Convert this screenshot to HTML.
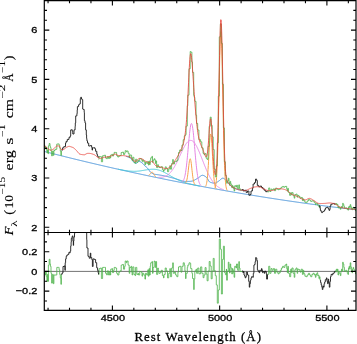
<!DOCTYPE html>
<html><head><meta charset="utf-8"><style>
html,body{margin:0;padding:0;background:#fff;}
body{width:357px;height:344px;position:relative;overflow:hidden;}
svg{position:absolute;left:0;top:0;will-change:transform;}
.tk{font-family:"Liberation Sans",sans-serif;font-size:9.6px;fill:#000;stroke:#000;stroke-width:0.32px;}
.xl{font-family:"Liberation Serif",serif;font-size:12.8px;fill:#000;stroke:#000;stroke-width:0.3px;}
.ym{font-family:"Liberation Serif",serif;font-size:12px;fill:#000;stroke:#000;stroke-width:0.15px;}
.it{font-style:italic;}
.yp{font-family:"Liberation Serif",serif;font-size:8px;fill:#000;stroke:#000;stroke-width:0.1px;}
.ys{font-family:"Liberation Serif",serif;font-size:8.5px;fill:#000;}
</style></head><body>
<svg width="357" height="344" viewBox="0 0 357 344">
<defs><clipPath id="cu"><rect x="44.3" y="0.6" width="311.7" height="231.9"/></clipPath>
<clipPath id="cl"><rect x="44.3" y="232.5" width="311.7" height="77.89999999999998"/></clipPath></defs>
<path d="M44.3 271.40H356.0" stroke="#444" stroke-width="0.75" fill="none"/>
<path d="M44.30 151.44L44.55 151.50L44.80 151.57L45.05 151.63L45.30 151.70L45.55 151.76L45.80 151.83L46.05 151.89L46.30 151.95L46.55 152.02L46.80 152.08L47.05 152.15L47.30 152.21L47.55 152.28L47.80 152.34L48.05 152.40L48.30 152.47L48.55 152.53L48.80 152.60L49.05 152.66L49.30 152.72L49.55 152.79L49.80 152.85L50.05 152.91L50.30 152.98L50.55 153.04L50.80 153.11L51.05 153.17L51.30 153.23L51.55 153.30L51.80 153.36L52.05 153.42L52.30 153.49L52.55 153.55L52.80 153.62L53.05 153.68L53.30 153.74L53.55 153.81L53.80 153.87L54.05 153.93L54.30 154.00L54.55 154.06L54.80 154.12L55.05 154.19L55.30 154.25L55.55 154.31L55.80 154.38L56.05 154.44L56.30 154.50L56.55 154.57L56.80 154.63L57.05 154.69L57.30 154.75L57.55 154.82L57.80 154.88L58.05 154.94L58.30 155.01L58.55 155.07L58.80 155.13L59.05 155.19L59.30 155.26L59.55 155.32L59.80 155.38L60.05 155.45L60.30 155.51L60.55 155.57L60.80 155.63L61.05 155.70L61.30 155.76L61.55 155.82L61.80 155.88L62.05 155.95L62.30 156.01L62.55 156.07L62.80 156.13L63.05 156.20L63.30 156.26L63.55 156.32L63.80 156.38L64.05 156.45L64.30 156.51L64.55 156.57L64.80 156.63L65.05 156.69L65.30 156.76L65.55 156.82L65.80 156.88L66.05 156.94L66.30 157.00L66.55 157.07L66.80 157.13L67.05 157.19L67.30 157.25L67.55 157.31L67.80 157.38L68.05 157.44L68.30 157.50L68.55 157.56L68.80 157.62L69.05 157.68L69.30 157.75L69.55 157.81L69.80 157.87L70.05 157.93L70.30 157.99L70.55 158.05L70.80 158.12L71.05 158.18L71.30 158.24L71.55 158.30L71.80 158.36L72.05 158.42L72.30 158.48L72.55 158.55L72.80 158.61L73.05 158.67L73.30 158.73L73.55 158.79L73.80 158.85L74.05 158.91L74.30 158.97L74.55 159.04L74.80 159.10L75.05 159.16L75.30 159.22L75.55 159.28L75.80 159.34L76.05 159.40L76.30 159.46L76.55 159.52L76.80 159.58L77.05 159.64L77.30 159.71L77.55 159.77L77.80 159.83L78.05 159.89L78.30 159.95L78.55 160.01L78.80 160.07L79.05 160.13L79.30 160.19L79.55 160.25L79.80 160.31L80.05 160.37L80.30 160.43L80.55 160.49L80.80 160.55L81.05 160.61L81.30 160.67L81.55 160.73L81.80 160.79L82.05 160.85L82.30 160.91L82.55 160.97L82.80 161.03L83.05 161.09L83.30 161.15L83.55 161.21L83.80 161.27L84.05 161.33L84.30 161.39L84.55 161.45L84.80 161.51L85.05 161.57L85.30 161.63L85.55 161.69L85.80 161.75L86.05 161.81L86.30 161.87L86.55 161.93L86.80 161.99L87.05 162.05L87.30 162.11L87.55 162.17L87.80 162.23L88.05 162.29L88.30 162.35L88.55 162.41L88.80 162.47L89.05 162.53L89.30 162.59L89.55 162.65L89.80 162.71L90.05 162.77L90.30 162.83L90.55 162.88L90.80 162.94L91.05 163.00L91.30 163.06L91.55 163.12L91.80 163.18L92.05 163.24L92.30 163.30L92.55 163.36L92.80 163.42L93.05 163.48L93.30 163.53L93.55 163.59L93.80 163.65L94.05 163.71L94.30 163.77L94.55 163.83L94.80 163.89L95.05 163.95L95.30 164.01L95.55 164.06L95.80 164.12L96.05 164.18L96.30 164.24L96.55 164.30L96.80 164.36L97.05 164.42L97.30 164.47L97.55 164.53L97.80 164.59L98.05 164.65L98.30 164.71L98.55 164.77L98.80 164.82L99.05 164.88L99.30 164.94L99.55 165.00L99.80 165.06L100.05 165.12L100.30 165.17L100.55 165.23L100.80 165.29L101.05 165.35L101.30 165.41L101.55 165.46L101.80 165.52L102.05 165.58L102.30 165.64L102.55 165.70L102.80 165.75L103.05 165.81L103.30 165.87L103.55 165.93L103.80 165.98L104.05 166.04L104.30 166.10L104.55 166.16L104.80 166.22L105.05 166.27L105.30 166.33L105.55 166.39L105.80 166.45L106.05 166.50L106.30 166.56L106.55 166.62L106.80 166.68L107.05 166.73L107.30 166.79L107.55 166.85L107.80 166.90L108.05 166.96L108.30 167.02L108.55 167.08L108.80 167.13L109.05 167.19L109.30 167.25L109.55 167.31L109.80 167.36L110.05 167.42L110.30 167.48L110.55 167.53L110.80 167.59L111.05 167.65L111.30 167.70L111.55 167.76L111.80 167.82L112.05 167.87L112.30 167.93L112.55 167.99L112.80 168.04L113.05 168.10L113.30 168.16L113.55 168.21L113.80 168.27L114.05 168.33L114.30 168.38L114.55 168.44L114.80 168.50L115.05 168.55L115.30 168.61L115.55 168.67L115.80 168.72L116.05 168.78L116.30 168.84L116.55 168.89L116.80 168.95L117.05 169.01L117.30 169.06L117.55 169.12L117.80 169.17L118.05 169.23L118.30 169.29L118.55 169.34L118.80 169.40L119.05 169.45L119.30 169.51L119.55 169.57L119.80 169.62L120.05 169.68L120.30 169.73L120.55 169.79L120.80 169.85L121.05 169.90L121.30 169.96L121.55 170.01L121.80 170.07L122.05 170.12L122.30 170.18L122.55 170.24L122.80 170.29L123.05 170.35L123.30 170.40L123.55 170.46L123.80 170.51L124.05 170.57L124.30 170.62L124.55 170.68L124.80 170.73L125.05 170.79L125.30 170.85L125.55 170.90L125.80 170.96L126.05 171.01L126.30 171.07L126.55 171.12L126.80 171.18L127.05 171.23L127.30 171.29L127.55 171.34L127.80 171.40L128.05 171.45L128.30 171.51L128.55 171.56L128.80 171.62L129.05 171.67L129.30 171.73L129.55 171.78L129.80 171.84L130.05 171.89L130.30 171.95L130.55 172.00L130.80 172.05L131.05 172.11L131.30 172.16L131.55 172.22L131.80 172.27L132.05 172.33L132.30 172.38L132.55 172.44L132.80 172.49L133.05 172.55L133.30 172.60L133.55 172.65L133.80 172.71L134.05 172.76L134.30 172.82L134.55 172.87L134.80 172.93L135.05 172.98L135.30 173.03L135.55 173.09L135.80 173.14L136.05 173.20L136.30 173.25L136.55 173.30L136.80 173.36L137.05 173.41L137.30 173.47L137.55 173.52L137.80 173.57L138.05 173.63L138.30 173.68L138.55 173.74L138.80 173.79L139.05 173.84L139.30 173.90L139.55 173.95L139.80 174.00L140.05 174.06L140.30 174.11L140.55 174.17L140.80 174.22L141.05 174.27L141.30 174.33L141.55 174.38L141.80 174.43L142.05 174.49L142.30 174.54L142.55 174.59L142.80 174.65L143.05 174.70L143.30 174.75L143.55 174.81L143.80 174.86L144.05 174.91L144.30 174.97L144.55 175.02L144.80 175.07L145.05 175.13L145.30 175.18L145.55 175.23L145.80 175.28L146.05 175.34L146.30 175.39L146.55 175.44L146.80 175.50L147.05 175.55L147.30 175.60L147.55 175.65L147.80 175.71L148.05 175.76L148.30 175.81L148.55 175.86L148.80 175.92L149.05 175.97L149.30 176.02L149.55 176.08L149.80 176.13L150.05 176.18L150.30 176.23L150.55 176.29L150.80 176.34L151.05 176.39L151.30 176.44L151.55 176.49L151.80 176.55L152.05 176.60L152.30 176.65L152.55 176.70L152.80 176.76L153.05 176.81L153.30 176.86L153.55 176.91L153.80 176.96L154.05 177.02L154.30 177.07L154.55 177.12L154.80 177.17L155.05 177.22L155.30 177.28L155.55 177.33L155.80 177.38L156.05 177.43L156.30 177.48L156.55 177.54L156.80 177.59L157.05 177.64L157.30 177.69L157.55 177.74L157.80 177.79L158.05 177.85L158.30 177.90L158.55 177.95L158.80 178.00L159.05 178.05L159.30 178.10L159.55 178.15L159.80 178.21L160.05 178.26L160.30 178.31L160.55 178.36L160.80 178.41L161.05 178.46L161.30 178.51L161.55 178.56L161.80 178.62L162.05 178.67L162.30 178.72L162.55 178.77L162.80 178.82L163.05 178.87L163.30 178.92L163.55 178.97L163.80 179.02L164.05 179.08L164.30 179.13L164.55 179.18L164.80 179.23L165.05 179.28L165.30 179.33L165.55 179.38L165.80 179.43L166.05 179.48L166.30 179.53L166.55 179.58L166.80 179.63L167.05 179.68L167.30 179.73L167.55 179.78L167.80 179.84L168.05 179.89L168.30 179.94L168.55 179.99L168.80 180.04L169.05 180.09L169.30 180.14L169.55 180.19L169.80 180.24L170.05 180.29L170.30 180.34L170.55 180.39L170.80 180.44L171.05 180.49L171.30 180.54L171.55 180.59L171.80 180.64L172.05 180.69L172.30 180.74L172.55 180.79L172.80 180.84L173.05 180.89L173.30 180.94L173.55 180.99L173.80 181.04L174.05 181.09L174.30 181.14L174.55 181.19L174.80 181.24L175.05 181.29L175.30 181.34L175.55 181.39L175.80 181.44L176.05 181.49L176.30 181.53L176.55 181.58L176.80 181.63L177.05 181.68L177.30 181.73L177.55 181.78L177.80 181.83L178.05 181.88L178.30 181.93L178.55 181.98L178.80 182.03L179.05 182.08L179.30 182.13L179.55 182.18L179.80 182.23L180.05 182.27L180.30 182.32L180.55 182.37L180.80 182.42L181.05 182.47L181.30 182.52L181.55 182.57L181.80 182.62L182.05 182.67L182.30 182.71L182.55 182.76L182.80 182.81L183.05 182.86L183.30 182.91L183.55 182.96L183.80 183.01L184.05 183.06L184.30 183.10L184.55 183.15L184.80 183.20L185.05 183.25L185.30 183.30L185.55 183.35L185.80 183.40L186.05 183.44L186.30 183.49L186.55 183.54L186.80 183.59L187.05 183.64L187.30 183.69L187.55 183.73L187.80 183.78L188.05 183.83L188.30 183.88L188.55 183.93L188.80 183.97L189.05 184.02L189.30 184.07L189.55 184.12L189.80 184.17L190.05 184.21L190.30 184.26L190.55 184.31L190.80 184.36L191.05 184.41L191.30 184.45L191.55 184.50L191.80 184.55L192.05 184.60L192.30 184.64L192.55 184.69L192.80 184.74L193.05 184.79L193.30 184.84L193.55 184.88L193.80 184.93L194.05 184.98L194.30 185.03L194.55 185.07L194.80 185.12L195.05 185.17L195.30 185.22L195.55 185.26L195.80 185.31L196.05 185.36L196.30 185.40L196.55 185.45L196.80 185.50L197.05 185.55L197.30 185.59L197.55 185.64L197.80 185.69L198.05 185.73L198.30 185.78L198.55 185.83L198.80 185.88L199.05 185.92L199.30 185.97L199.55 186.02L199.80 186.06L200.05 186.11L200.30 186.16L200.55 186.20L200.80 186.25L201.05 186.30L201.30 186.34L201.55 186.39L201.80 186.44L202.05 186.48L202.30 186.53L202.55 186.58L202.80 186.62L203.05 186.67L203.30 186.72L203.55 186.76L203.80 186.81L204.05 186.85L204.30 186.90L204.55 186.95L204.80 186.99L205.05 187.04L205.30 187.09L205.55 187.13L205.80 187.18L206.05 187.22L206.30 187.27L206.55 187.32L206.80 187.36L207.05 187.41L207.30 187.45L207.55 187.50L207.80 187.55L208.05 187.59L208.30 187.64L208.55 187.68L208.80 187.73L209.05 187.78L209.30 187.82L209.55 187.87L209.80 187.91L210.05 187.96L210.30 188.00L210.55 188.05L210.80 188.10L211.05 188.14L211.30 188.19L211.55 188.23L211.80 188.28L212.05 188.32L212.30 188.37L212.55 188.41L212.80 188.46L213.05 188.50L213.30 188.55L213.55 188.60L213.80 188.64L214.05 188.69L214.30 188.73L214.55 188.78L214.80 188.82L215.05 188.87L215.30 188.91L215.55 188.96L215.80 189.00L216.05 189.05L216.30 189.09L216.55 189.14L216.80 189.18L217.05 189.23L217.30 189.27L217.55 189.32L217.80 189.36L218.05 189.41L218.30 189.45L218.55 189.50L218.80 189.54L219.05 189.58L219.30 189.63L219.55 189.67L219.80 189.72L220.05 189.76L220.30 189.81L220.55 189.85L220.80 189.90L221.05 189.94L221.30 189.99L221.55 190.03L221.80 190.07L222.05 190.12L222.30 190.16L222.55 190.21L222.80 190.25L223.05 190.30L223.30 190.34L223.55 190.38L223.80 190.43L224.05 190.47L224.30 190.52L224.55 190.56L224.80 190.60L225.05 190.65L225.30 190.69L225.55 190.74L225.80 190.78L226.05 190.82L226.30 190.87L226.55 190.91L226.80 190.96L227.05 191.00L227.30 191.04L227.55 191.09L227.80 191.13L228.05 191.17L228.30 191.22L228.55 191.26L228.80 191.30L229.05 191.35L229.30 191.39L229.55 191.43L229.80 191.48L230.05 191.52L230.30 191.57L230.55 191.61L230.80 191.65L231.05 191.70L231.30 191.74L231.55 191.78L231.80 191.82L232.05 191.87L232.30 191.91L232.55 191.95L232.80 192.00L233.05 192.04L233.30 192.08L233.55 192.13L233.80 192.17L234.05 192.21L234.30 192.26L234.55 192.30L234.80 192.34L235.05 192.38L235.30 192.43L235.55 192.47L235.80 192.51L236.05 192.56L236.30 192.60L236.55 192.64L236.80 192.68L237.05 192.73L237.30 192.77L237.55 192.81L237.80 192.85L238.05 192.90L238.30 192.94L238.55 192.98L238.80 193.02L239.05 193.07L239.30 193.11L239.55 193.15L239.80 193.19L240.05 193.23L240.30 193.28L240.55 193.32L240.80 193.36L241.05 193.40L241.30 193.45L241.55 193.49L241.80 193.53L242.05 193.57L242.30 193.61L242.55 193.66L242.80 193.70L243.05 193.74L243.30 193.78L243.55 193.82L243.80 193.87L244.05 193.91L244.30 193.95L244.55 193.99L244.80 194.03L245.05 194.07L245.30 194.12L245.55 194.16L245.80 194.20L246.05 194.24L246.30 194.28L246.55 194.32L246.80 194.37L247.05 194.41L247.30 194.45L247.55 194.49L247.80 194.53L248.05 194.57L248.30 194.61L248.55 194.66L248.80 194.70L249.05 194.74L249.30 194.78L249.55 194.82L249.80 194.86L250.05 194.90L250.30 194.94L250.55 194.98L250.80 195.03L251.05 195.07L251.30 195.11L251.55 195.15L251.80 195.19L252.05 195.23L252.30 195.27L252.55 195.31L252.80 195.35L253.05 195.39L253.30 195.43L253.55 195.48L253.80 195.52L254.05 195.56L254.30 195.60L254.55 195.64L254.80 195.68L255.05 195.72L255.30 195.76L255.55 195.80L255.80 195.84L256.05 195.88L256.30 195.92L256.55 195.96L256.80 196.00L257.05 196.04L257.30 196.08L257.55 196.12L257.80 196.16L258.05 196.20L258.30 196.24L258.55 196.28L258.80 196.32L259.05 196.36L259.30 196.41L259.55 196.45L259.80 196.49L260.05 196.53L260.30 196.57L260.55 196.61L260.80 196.64L261.05 196.68L261.30 196.72L261.55 196.76L261.80 196.80L262.05 196.84L262.30 196.88L262.55 196.92L262.80 196.96L263.05 197.00L263.30 197.04L263.55 197.08L263.80 197.12L264.05 197.16L264.30 197.20L264.55 197.24L264.80 197.28L265.05 197.32L265.30 197.36L265.55 197.40L265.80 197.44L266.05 197.48L266.30 197.52L266.55 197.56L266.80 197.59L267.05 197.63L267.30 197.67L267.55 197.71L267.80 197.75L268.05 197.79L268.30 197.83L268.55 197.87L268.80 197.91L269.05 197.95L269.30 197.99L269.55 198.02L269.80 198.06L270.05 198.10L270.30 198.14L270.55 198.18L270.80 198.22L271.05 198.26L271.30 198.30L271.55 198.33L271.80 198.37L272.05 198.41L272.30 198.45L272.55 198.49L272.80 198.53L273.05 198.57L273.30 198.60L273.55 198.64L273.80 198.68L274.05 198.72L274.30 198.76L274.55 198.80L274.80 198.84L275.05 198.87L275.30 198.91L275.55 198.95L275.80 198.99L276.05 199.03L276.30 199.06L276.55 199.10L276.80 199.14L277.05 199.18L277.30 199.22L277.55 199.25L277.80 199.29L278.05 199.33L278.30 199.37L278.55 199.41L278.80 199.44L279.05 199.48L279.30 199.52L279.55 199.56L279.80 199.60L280.05 199.63L280.30 199.67L280.55 199.71L280.80 199.75L281.05 199.78L281.30 199.82L281.55 199.86L281.80 199.90L282.05 199.93L282.30 199.97L282.55 200.01L282.80 200.05L283.05 200.08L283.30 200.12L283.55 200.16L283.80 200.20L284.05 200.23L284.30 200.27L284.55 200.31L284.80 200.35L285.05 200.38L285.30 200.42L285.55 200.46L285.80 200.49L286.05 200.53L286.30 200.57L286.55 200.60L286.80 200.64L287.05 200.68L287.30 200.72L287.55 200.75L287.80 200.79L288.05 200.83L288.30 200.86L288.55 200.90L288.80 200.94L289.05 200.97L289.30 201.01L289.55 201.05L289.80 201.08L290.05 201.12L290.30 201.16L290.55 201.19L290.80 201.23L291.05 201.27L291.30 201.30L291.55 201.34L291.80 201.37L292.05 201.41L292.30 201.45L292.55 201.48L292.80 201.52L293.05 201.56L293.30 201.59L293.55 201.63L293.80 201.67L294.05 201.70L294.30 201.74L294.55 201.77L294.80 201.81L295.05 201.85L295.30 201.88L295.55 201.92L295.80 201.95L296.05 201.99L296.30 202.03L296.55 202.06L296.80 202.10L297.05 202.13L297.30 202.17L297.55 202.20L297.80 202.24L298.05 202.28L298.30 202.31L298.55 202.35L298.80 202.38L299.05 202.42L299.30 202.45L299.55 202.49L299.80 202.52L300.05 202.56L300.30 202.60L300.55 202.63L300.80 202.67L301.05 202.70L301.30 202.74L301.55 202.77L301.80 202.81L302.05 202.84L302.30 202.88L302.55 202.91L302.80 202.95L303.05 202.98L303.30 203.02L303.55 203.05L303.80 203.09L304.05 203.12L304.30 203.16L304.55 203.19L304.80 203.23L305.05 203.26L305.30 203.30L305.55 203.33L305.80 203.37L306.05 203.40L306.30 203.44L306.55 203.47L306.80 203.51L307.05 203.54L307.30 203.58L307.55 203.61L307.80 203.65L308.05 203.68L308.30 203.71L308.55 203.75L308.80 203.78L309.05 203.82L309.30 203.85L309.55 203.89L309.80 203.92L310.05 203.96L310.30 203.99L310.55 204.02L310.80 204.06L311.05 204.09L311.30 204.13L311.55 204.16L311.80 204.19L312.05 204.23L312.30 204.26L312.55 204.30L312.80 204.33L313.05 204.37L313.30 204.40L313.55 204.43L313.80 204.47L314.05 204.50L314.30 204.53L314.55 204.57L314.80 204.60L315.05 204.64L315.30 204.67L315.55 204.70L315.80 204.74L316.05 204.77L316.30 204.80L316.55 204.84L316.80 204.87L317.05 204.91L317.30 204.94L317.55 204.97L317.80 205.01L318.05 205.04L318.30 205.07L318.55 205.11L318.80 205.14L319.05 205.17L319.30 205.21L319.55 205.24L319.80 205.27L320.05 205.31L320.30 205.34L320.55 205.37L320.80 205.40L321.05 205.44L321.30 205.47L321.55 205.50L321.80 205.54L322.05 205.57L322.30 205.60L322.55 205.64L322.80 205.67L323.05 205.70L323.30 205.73L323.55 205.77L323.80 205.80L324.05 205.83L324.30 205.87L324.55 205.90L324.80 205.93L325.05 205.96L325.30 206.00L325.55 206.03L325.80 206.06L326.05 206.09L326.30 206.13L326.55 206.16L326.80 206.19L327.05 206.22L327.30 206.26L327.55 206.29L327.80 206.32L328.05 206.35L328.30 206.38L328.55 206.42L328.80 206.45L329.05 206.48L329.30 206.51L329.55 206.55L329.80 206.58L330.05 206.61L330.30 206.64L330.55 206.67L330.80 206.71L331.05 206.74L331.30 206.77L331.55 206.80L331.80 206.83L332.05 206.86L332.30 206.90L332.55 206.93L332.80 206.96L333.05 206.99L333.30 207.02L333.55 207.06L333.80 207.09L334.05 207.12L334.30 207.15L334.55 207.18L334.80 207.21L335.05 207.24L335.30 207.28L335.55 207.31L335.80 207.34L336.05 207.37L336.30 207.40L336.55 207.43L336.80 207.46L337.05 207.50L337.30 207.53L337.55 207.56L337.80 207.59L338.05 207.62L338.30 207.65L338.55 207.68L338.80 207.71L339.05 207.74L339.30 207.78L339.55 207.81L339.80 207.84L340.05 207.87L340.30 207.90L340.55 207.93L340.80 207.96L341.05 207.99L341.30 208.02L341.55 208.05L341.80 208.08L342.05 208.11L342.30 208.15L342.55 208.18L342.80 208.21L343.05 208.24L343.30 208.27L343.55 208.30L343.80 208.33L344.05 208.36L344.30 208.39L344.55 208.42L344.80 208.45L345.05 208.48L345.30 208.51L345.55 208.54L345.80 208.57L346.05 208.60L346.30 208.63L346.55 208.66L346.80 208.69L347.05 208.72L347.30 208.75L347.55 208.78L347.80 208.81L348.05 208.84L348.30 208.87L348.55 208.90L348.80 208.93L349.05 208.96L349.30 208.99L349.55 209.02L349.80 209.05L350.05 209.08L350.30 209.11L350.55 209.14L350.80 209.17L351.05 209.20L351.30 209.23L351.55 209.26L351.80 209.29L352.05 209.32L352.30 209.35L352.55 209.38L352.80 209.41L353.05 209.44L353.30 209.47L353.55 209.50L353.80 209.53L354.05 209.55L354.30 209.58L354.55 209.61L354.80 209.64L355.05 209.67L355.30 209.70L355.55 209.73L355.80 209.76" stroke="#3d8bd4" stroke-width="1.0" fill="none" clip-path="url(#cu)" stroke-linejoin="round"/>
<path d="M126.05 156.41L126.30 156.47L126.55 156.54L126.80 156.62L127.05 156.69L127.30 156.76L127.55 156.84L127.80 156.91L128.05 156.99L128.30 157.07L128.55 157.15L128.80 157.23L129.05 157.34L129.30 157.46L129.55 157.59L129.80 157.74L130.05 157.91L130.30 158.08L130.55 158.26L130.80 158.45L131.05 158.64L131.30 158.87L131.55 159.14L131.80 159.45L132.05 159.79L132.30 160.14L132.55 160.51L132.80 160.88L133.05 161.24L133.30 161.58L133.55 161.90L133.80 162.18L134.05 162.41L134.30 162.60L134.55 162.72L134.80 162.82L135.05 162.91L135.30 163.00L135.55 163.08L135.80 163.15L136.05 163.21L136.30 163.20L136.55 163.11L136.80 162.95L137.05 162.74L137.30 162.50L137.55 162.25L137.80 162.00L138.05 161.76L138.30 161.55L138.55 161.40L138.80 161.30L139.05 161.29L139.30 161.35L139.55 161.43L139.80 161.52L140.05 161.63L140.30 161.76L140.55 161.89L140.80 162.04L141.05 162.20L141.30 162.36L141.55 162.53L141.80 162.71L142.05 162.89L142.30 163.08L142.55 163.26L142.80 163.46L143.05 163.70L143.30 163.98L143.55 164.28L143.80 164.59L144.05 164.91L144.30 165.22L144.55 165.52L144.80 165.80L145.05 166.05L145.30 166.27L145.55 166.47L145.80 166.66L146.05 166.85L146.30 167.04L146.55 167.23L146.80 167.43L147.05 167.66L147.30 167.90L147.55 168.19L147.80 168.52L148.05 168.87L148.30 169.23L148.55 169.57L148.80 169.91L149.05 170.26L149.30 170.62L149.55 170.98L149.80 171.33L150.05 171.65L150.30 171.94L150.55 172.20L150.80 172.40L151.05 172.57L151.30 172.74L151.55 172.91L151.80 173.07L152.05 173.23L152.30 173.38L152.55 173.52L152.80 173.65L153.05 173.77L153.30 173.88L153.55 173.98L153.80 174.07L154.05 174.14L154.30 174.20L154.55 174.25L154.80 174.30L155.05 174.34L155.30 174.38L155.55 174.42L155.80 174.46L156.05 174.50L156.30 174.53L156.55 174.57L156.80 174.60L157.05 174.63L157.30 174.67L157.55 174.70L157.80 174.73L158.05 174.77L158.30 174.81L158.55 174.84L158.80 174.88L159.05 174.93L159.30 174.97L159.55 175.01L159.80 175.05L160.05 175.09L160.30 175.13L160.55 175.18L160.80 175.22L161.05 175.26L161.30 175.30L161.55 175.34L161.80 175.39L162.05 175.43L162.30 175.48L162.55 175.52L162.80 175.57L163.05 175.61L163.30 175.66L163.55 175.71L163.80 175.76L164.05 175.81L164.30 175.86L164.55 175.91L164.80 175.97L165.05 176.02L165.30 176.08L165.55 176.14L165.80 176.19L166.05 176.25L166.30 176.31L166.55 176.37L166.80 176.43L167.05 176.49L167.30 176.56L167.55 176.62L167.80 176.68L168.05 176.75L168.30 176.81L168.55 176.87L168.80 176.94L169.05 177.00L169.30 177.07L169.55 177.14L169.80 177.20L170.05 177.27L170.30 177.33L170.55 177.40L170.80 177.46L171.05 177.53L171.30 177.60L171.55 177.66L171.80 177.73L172.05 177.79L172.30 177.86L172.55 177.93L172.80 178.00L173.05 178.06L173.30 178.13L173.55 178.21L173.80 178.28L174.05 178.35L174.30 178.42L174.55 178.49L174.80 178.57L175.05 178.64L175.30 178.71L175.55 178.79L175.80 178.86L176.05 178.94L176.30 179.01L176.55 179.09L176.80 179.16L177.05 179.24L177.30 179.31L177.55 179.39L177.80 179.46L178.05 179.54L178.30 179.62L178.55 179.70L178.80 179.79L179.05 179.87L179.30 179.96L179.55 180.04L179.80 180.13L180.05 180.22L180.30 180.31L180.55 180.39L180.80 180.48L181.05 180.56L181.30 180.64L181.55 180.72L181.80 180.80L182.05 180.87L182.30 180.94L182.55 181.01L182.80 181.07L183.05 181.13L183.30 181.18L183.55 181.23L183.80 181.27L184.05 181.30L184.30 181.33L184.55 181.36L184.80 181.38L185.05 181.39L185.30 181.40L185.55 181.41L185.80 181.41L186.05 181.42L186.30 181.42L186.55 181.41L186.80 181.41L187.05 181.41L187.30 181.41L187.55 181.40L187.80 181.40L188.05 181.40L188.30 181.40L188.55 181.40L188.80 181.39L189.05 181.39L189.30 181.38L189.55 181.37L189.80 181.35L190.05 181.34L190.30 181.32L190.55 181.30L190.80 181.27L191.05 181.24L191.30 181.21L191.55 181.18L191.80 181.14L192.05 181.09L192.30 181.04L192.55 180.97L192.80 180.89L193.05 180.80L193.30 180.71L193.55 180.60L193.80 180.48L194.05 180.36L194.30 180.23L194.55 180.10L194.80 179.96L195.05 179.82L195.30 179.67L195.55 179.52L195.80 179.37L196.05 179.22L196.30 179.07L196.55 178.92L196.80 178.77L197.05 178.62L197.30 178.48L197.55 178.34L197.80 178.20L198.05 178.06L198.30 177.90L198.55 177.72L198.80 177.54L199.05 177.34L199.30 177.14L199.55 176.93L199.80 176.73L200.05 176.53L200.30 176.33L200.55 176.14L200.80 175.96L201.05 175.80L201.30 175.65L201.55 175.53L201.80 175.42L202.05 175.34L202.30 175.29L202.55 175.27L202.80 175.28L203.05 175.33L203.30 175.40L203.55 175.49L203.80 175.59L204.05 175.71L204.30 175.84L204.55 175.99L204.80 176.15L205.05 176.31L205.30 176.49L205.55 176.67L205.80 176.86L206.05 177.05L206.30 177.24L206.55 177.44L206.80 177.69L207.05 178.00L207.30 178.37L207.55 178.77L207.80 179.20L208.05 179.65L208.30 180.09L208.55 180.53L208.80 180.94L209.05 181.32L209.30 181.65L209.55 181.91L209.80 182.11L210.05 182.22L210.30 182.29L210.55 182.37L210.80 182.44L211.05 182.52L211.30 182.59L211.55 182.66L211.80 182.72L212.05 182.79L212.30 182.85L212.55 182.91L212.80 182.97L213.05 183.03L213.30 183.08L213.55 183.13L213.80 183.19L214.05 183.23L214.30 183.28L214.55 183.32L214.80 183.33L215.05 183.30L215.30 183.24L215.55 183.15L215.80 183.05L216.05 182.92L216.30 182.77L216.55 182.61L216.80 182.44L217.05 182.26L217.30 182.07L217.55 181.89L217.80 181.70L218.05 181.52L218.30 181.35L218.55 181.19L218.80 181.04L219.05 180.87L219.30 180.68L219.55 180.47L219.80 180.25L220.05 180.02L220.30 179.79L220.55 179.55L220.80 179.32L221.05 179.10L221.30 178.90L221.55 178.71L221.80 178.54L222.05 178.40L222.30 178.29L222.55 178.22L222.80 178.18L223.05 178.19L223.30 178.25L223.55 178.34L223.80 178.47L224.05 178.62L224.30 178.80L224.55 179.00L224.80 179.21L225.05 179.43L225.30 179.66L225.55 179.89L225.80 180.12L226.05 180.34L226.30 180.58L226.55 180.84L226.80 181.13L227.05 181.43L227.30 181.74L227.55 182.07L227.80 182.40L228.05 182.74L228.30 183.07L228.55 183.41L228.80 183.74L229.05 184.06L229.30 184.37L229.55 184.66L229.80 184.93L230.05 185.18L230.30 185.40L230.55 185.61L230.80 185.81L231.05 186.01L231.30 186.20L231.55 186.39L231.80 186.58L232.05 186.76L232.30 186.94L232.55 187.11L232.80 187.27L233.05 187.43L233.30 187.58L233.55 187.73L233.80 187.87L234.05 188.00L234.30 188.12L234.55 188.23L234.80 188.34L235.05 188.45L235.30 188.55L235.55 188.66L235.80 188.76L236.05 188.86L236.30 188.96L236.55 189.06L236.80 189.15L237.05 189.24L237.30 189.33L237.55 189.41L237.80 189.49L238.05 189.56L238.30 189.63L238.55 189.69L238.80 189.74L239.05 189.79L239.30 189.83L239.55 189.87L239.80 189.91L240.05 189.95L240.30 189.99L240.55 190.03L240.80 190.06L241.05 190.10L241.30 190.13L241.55 190.16L241.80 190.19L242.05 190.22L242.30 190.25L242.55 190.28L242.80 190.31L243.05 190.33L243.30 190.36L243.55 190.38L243.80 190.41L244.05 190.43L244.30 190.45L244.55 190.47L244.80 190.49L245.05 190.51L245.30 190.51L245.55 190.49L245.80 190.45L246.05 190.40L246.30 190.33L246.55 190.25L246.80 190.16" stroke="#3d8bd4" stroke-width="1.0" fill="none" clip-path="url(#cu)" stroke-linejoin="round"/>
<path d="M118.05 169.17L118.30 169.22L118.55 169.27L118.80 169.32L119.05 169.38L119.30 169.43L119.55 169.48L119.80 169.53L120.05 169.58L120.30 169.63L120.55 169.68L120.80 169.73L121.05 169.78L121.30 169.82L121.55 169.87L121.80 169.92L122.05 169.97L122.30 170.01L122.55 170.06L122.80 170.11L123.05 170.15L123.30 170.20L123.55 170.24L123.80 170.28L124.05 170.33L124.30 170.37L124.55 170.41L124.80 170.45L125.05 170.49L125.30 170.53L125.55 170.57L125.80 170.61L126.05 170.65L126.30 170.68L126.55 170.72L126.80 170.75L127.05 170.79L127.30 170.82L127.55 170.85L127.80 170.88L128.05 170.91L128.30 170.94L128.55 170.97L128.80 171.00L129.05 171.03L129.30 171.05L129.55 171.08L129.80 171.10L130.05 171.12L130.30 171.14L130.55 171.16L130.80 171.18L131.05 171.20L131.30 171.21L131.55 171.23L131.80 171.24L132.05 171.25L132.30 171.26L132.55 171.27L132.80 171.28L133.05 171.29L133.30 171.29L133.55 171.30L133.80 171.30L134.05 171.30L134.30 171.30L134.55 171.30L134.80 171.30L135.05 171.29L135.30 171.29L135.55 171.28L135.80 171.27L136.05 171.26L136.30 171.25L136.55 171.23L136.80 171.22L137.05 171.20L137.30 171.19L137.55 171.17L137.80 171.15L138.05 171.12L138.30 171.10L138.55 171.08L138.80 171.05L139.05 171.02L139.30 170.99L139.55 170.97L139.80 170.93L140.05 170.90L140.30 170.87L140.55 170.84L140.80 170.80L141.05 170.76L141.30 170.73L141.55 170.69L141.80 170.65L142.05 170.61L142.30 170.57L142.55 170.53L142.80 170.49L143.05 170.45L143.30 170.40L143.55 170.36L143.80 170.32L144.05 170.27L144.30 170.23L144.55 170.19L144.80 170.14L145.05 170.10L145.30 170.05L145.55 170.01L145.80 169.97L146.05 169.92L146.30 169.88L146.55 169.84L146.80 169.80L147.05 169.76L147.30 169.72L147.55 169.68L147.80 169.64L148.05 169.60L148.30 169.57L148.55 169.53L148.80 169.50L149.05 169.47L149.30 169.44L149.55 169.41L149.80 169.38L150.05 169.36L150.30 169.33L150.55 169.31L150.80 169.29L151.05 169.27L151.30 169.26L151.55 169.25L151.80 169.23L152.05 169.23L152.30 169.22L152.55 169.22L152.80 169.22L153.05 169.22L153.30 169.22L153.55 169.23L153.80 169.24L154.05 169.25L154.30 169.27L154.55 169.29L154.80 169.31L155.05 169.33L155.30 169.36L155.55 169.39L155.80 169.42L156.05 169.46L156.30 169.50L156.55 169.54L156.80 169.59L157.05 169.64L157.30 169.69L157.55 169.75L157.80 169.81L158.05 169.87L158.30 169.93L158.55 170.00L158.80 170.07L159.05 170.15L159.30 170.23L159.55 170.31L159.80 170.39L160.05 170.48L160.30 170.57L160.55 170.66L160.80 170.75L161.05 170.85L161.30 170.95L161.55 171.06L161.80 171.16L162.05 171.27L162.30 171.38L162.55 171.49L162.80 171.61L163.05 171.73L163.30 171.85L163.55 171.97L163.80 172.09L164.05 172.22L164.30 172.35L164.55 172.48L164.80 172.61L165.05 172.74L165.30 172.88L165.55 173.01L165.80 173.15L166.05 173.29L166.30 173.43L166.55 173.57L166.80 173.71L167.05 173.86L167.30 174.00L167.55 174.14L167.80 174.29L168.05 174.43L168.30 174.58L168.55 174.73L168.80 174.87L169.05 175.02L169.30 175.17L169.55 175.32L169.80 175.46L170.05 175.61L170.30 175.76L170.55 175.90L170.80 176.05L171.05 176.20L171.30 176.34L171.55 176.49L171.80 176.63L172.05 176.78L172.30 176.92L172.55 177.06L172.80 177.20L173.05 177.34L173.30 177.48L173.55 177.62L173.80 177.76L174.05 177.90L174.30 178.03L174.55 178.17L174.80 178.30L175.05 178.43L175.30 178.56L175.55 178.69L175.80 178.82L176.05 178.95L176.30 179.08L176.55 179.20L176.80 179.32L177.05 179.44L177.30 179.56L177.55 179.68L177.80 179.80L178.05 179.92L178.30 180.03L178.55 180.14L178.80 180.26L179.05 180.37L179.30 180.47L179.55 180.58L179.80 180.69L180.05 180.79L180.30 180.89L180.55 181.00L180.80 181.10L181.05 181.19L181.30 181.29L181.55 181.39L181.80 181.48L182.05 181.57L182.30 181.67L182.55 181.76L182.80 181.85L183.05 181.93L183.30 182.02L183.55 182.11L183.80 182.19L184.05 182.27L184.30 182.35L184.55 182.44L184.80 182.51L185.05 182.59L185.30 182.67L185.55 182.75L185.80 182.82L186.05 182.90L186.30 182.97L186.55 183.04L186.80 183.11L187.05 183.18L187.30 183.25L187.55 183.32L187.80 183.39L188.05 183.46L188.30 183.52L188.55 183.59L188.80 183.65L189.05 183.72L189.30 183.78L189.55 183.84L189.80 183.91L190.05 183.97L190.30 184.03L190.55 184.09L190.80 184.15L191.05 184.21L191.30 184.26L191.55 184.32L191.80 184.38L192.05 184.44L192.30 184.49L192.55 184.55L192.80 184.60L193.05 184.66L193.30 184.71L193.55 184.77L193.80 184.82L194.05 184.88L194.30 184.93L194.55 184.98L194.80 185.04L195.05 185.09L195.30 185.14L195.55 185.19L195.80 185.24L196.05 185.29L196.30 185.35L196.55 185.40L196.80 185.45L197.05 185.50L197.30 185.55L197.55 185.60L197.80 185.65L198.05 185.70L198.30 185.75L198.55 185.80L198.80 185.84L199.05 185.89L199.30 185.94L199.55 185.99L199.80 186.04" stroke="#3ec6d6" stroke-width="1.0" fill="none" clip-path="url(#cu)" stroke-linejoin="round"/>
<path d="M181.80 182.00L182.05 181.89L182.30 181.74L182.55 181.54L182.80 181.30L183.05 180.99L183.30 180.62L183.55 180.17L183.80 179.63L184.05 179.00L184.30 178.25L184.55 177.38L184.80 176.39L185.05 175.25L185.30 173.96L185.55 172.52L185.80 170.91L186.05 169.14L186.30 167.20L186.55 165.10L186.80 162.84L187.05 160.44L187.30 157.91L187.55 155.26L187.80 152.52L188.05 149.72L188.30 146.88L188.55 144.04L188.80 141.24L189.05 138.52L189.30 135.91L189.55 133.46L189.80 131.19L190.05 129.17L190.30 127.40L190.55 125.94L190.80 124.80L191.05 124.01L191.30 123.57L191.55 123.51L191.80 123.82L192.05 124.49L192.30 125.52L192.55 126.89L192.80 128.57L193.05 130.54L193.30 132.76L193.55 135.20L193.80 137.82L194.05 140.57L194.30 143.43L194.55 146.34L194.80 149.28L195.05 152.20L195.30 155.08L195.55 157.88L195.80 160.58L196.05 163.16L196.30 165.60L196.55 167.89L196.80 170.02L197.05 171.99L197.30 173.79L197.55 175.43L197.80 176.90L198.05 178.23L198.30 179.40L198.55 180.44L198.80 181.35L199.05 182.15L199.30 182.84L199.55 183.44L199.80 183.95L200.05 184.39L200.30 184.77L200.55 185.08L200.80 185.36L201.05 185.59" stroke="#e585e2" stroke-width="1.0" fill="none" clip-path="url(#cu)" stroke-linejoin="round"/>
<path d="M158.55 177.32L158.80 177.33L159.05 177.34L159.30 177.34L159.55 177.34L159.80 177.34L160.05 177.34L160.30 177.33L160.55 177.32L160.80 177.31L161.05 177.29L161.30 177.27L161.55 177.24L161.80 177.21L162.05 177.18L162.30 177.14L162.55 177.10L162.80 177.05L163.05 177.00L163.30 176.95L163.55 176.88L163.80 176.82L164.05 176.74L164.30 176.67L164.55 176.58L164.80 176.49L165.05 176.40L165.30 176.29L165.55 176.18L165.80 176.07L166.05 175.95L166.30 175.82L166.55 175.68L166.80 175.53L167.05 175.38L167.30 175.22L167.55 175.05L167.80 174.87L168.05 174.69L168.30 174.50L168.55 174.29L168.80 174.08L169.05 173.86L169.30 173.63L169.55 173.39L169.80 173.15L170.05 172.89L170.30 172.62L170.55 172.35L170.80 172.06L171.05 171.77L171.30 171.46L171.55 171.15L171.80 170.82L172.05 170.49L172.30 170.14L172.55 169.79L172.80 169.43L173.05 169.05L173.30 168.67L173.55 168.28L173.80 167.88L174.05 167.46L174.30 167.04L174.55 166.61L174.80 166.18L175.05 165.73L175.30 165.27L175.55 164.81L175.80 164.34L176.05 163.86L176.30 163.37L176.55 162.88L176.80 162.38L177.05 161.87L177.30 161.36L177.55 160.85L177.80 160.32L178.05 159.80L178.30 159.26L178.55 158.73L178.80 158.19L179.05 157.65L179.30 157.11L179.55 156.56L179.80 156.01L180.05 155.47L180.30 154.92L180.55 154.38L180.80 153.83L181.05 153.29L181.30 152.75L181.55 152.21L181.80 151.68L182.05 151.15L182.30 150.63L182.55 150.11L182.80 149.60L183.05 149.10L183.30 148.60L183.55 148.11L183.80 147.64L184.05 147.17L184.30 146.71L184.55 146.26L184.80 145.83L185.05 145.41L185.30 145.00L185.55 144.60L185.80 144.22L186.05 143.86L186.30 143.51L186.55 143.17L186.80 142.86L187.05 142.56L187.30 142.27L187.55 142.01L187.80 141.76L188.05 141.54L188.30 141.33L188.55 141.14L188.80 140.97L189.05 140.83L189.30 140.70L189.55 140.59L189.80 140.51L190.05 140.45L190.30 140.40L190.55 140.38L190.80 140.39L191.05 140.41L191.30 140.46L191.55 140.52L191.80 140.61L192.05 140.72L192.30 140.86L192.55 141.01L192.80 141.19L193.05 141.38L193.30 141.60L193.55 141.84L193.80 142.10L194.05 142.38L194.30 142.68L194.55 143.00L194.80 143.34L195.05 143.69L195.30 144.07L195.55 144.46L195.80 144.87L196.05 145.29L196.30 145.74L196.55 146.20L196.80 146.67L197.05 147.16L197.30 147.66L197.55 148.17L197.80 148.70L198.05 149.24L198.30 149.79L198.55 150.35L198.80 150.92L199.05 151.50L199.30 152.09L199.55 152.69L199.80 153.30L200.05 153.91L200.30 154.53L200.55 155.15L200.80 155.78L201.05 156.41L201.30 157.04L201.55 157.68L201.80 158.32L202.05 158.96L202.30 159.60L202.55 160.25L202.80 160.89L203.05 161.53L203.30 162.17L203.55 162.81L203.80 163.44L204.05 164.07L204.30 164.70L204.55 165.32L204.80 165.94L205.05 166.56L205.30 167.17L205.55 167.77L205.80 168.37L206.05 168.96L206.30 169.54L206.55 170.12L206.80 170.68L207.05 171.24L207.30 171.80L207.55 172.34L207.80 172.88L208.05 173.40L208.30 173.92L208.55 174.43L208.80 174.93L209.05 175.42L209.30 175.90L209.55 176.37L209.80 176.83L210.05 177.28L210.30 177.73L210.55 178.16L210.80 178.58L211.05 178.99L211.30 179.40L211.55 179.79L211.80 180.17L212.05 180.54L212.30 180.91L212.55 181.26L212.80 181.61L213.05 181.94L213.30 182.27L213.55 182.59L213.80 182.90L214.05 183.20L214.30 183.49L214.55 183.77L214.80 184.04L215.05 184.31L215.30 184.57L215.55 184.82L215.80 185.06L216.05 185.29L216.30 185.52L216.55 185.74L216.80 185.95L217.05 186.16L217.30 186.36L217.55 186.55L217.80 186.74L218.05 186.92L218.30 187.09L218.55 187.26L218.80 187.43L219.05 187.59L219.30 187.74L219.55 187.89L219.80 188.03L220.05 188.17L220.30 188.30L220.55 188.43L220.80 188.56L221.05 188.68L221.30 188.80L221.55 188.91L221.80 189.02L222.05 189.13L222.30 189.23L222.55 189.33L222.80 189.43L223.05 189.52L223.30 189.62L223.55 189.70L223.80 189.79" stroke="#e585e2" stroke-width="1.0" fill="none" clip-path="url(#cu)" stroke-linejoin="round"/>
<path d="M148.55 175.35L148.80 175.24L149.05 175.08L149.30 174.88L149.55 174.65L149.80 174.37L150.05 174.06L150.30 173.74L150.55 173.40L150.80 173.07L151.05 172.76L151.30 172.50L151.55 172.29L151.80 172.16L152.05 172.12L152.30 172.16L152.55 172.29L152.80 172.51L153.05 172.81L153.30 173.17L153.55 173.57L153.80 174.00L154.05 174.44L154.30 174.88L154.55 175.29L154.80 175.68L155.05 176.03L155.30 176.34L155.55 176.61L155.80 176.84L156.05 177.03" stroke="#f7a24a" stroke-width="1.0" fill="none" clip-path="url(#cu)" stroke-linejoin="round"/>
<path d="M185.30 182.90L185.55 182.74L185.80 182.50L186.05 182.15L186.30 181.66L186.55 181.00L186.80 180.14L187.05 179.06L187.30 177.73L187.55 176.17L187.80 174.37L188.05 172.37L188.30 170.22L188.55 168.01L188.80 165.81L189.05 163.74L189.30 161.90L189.55 160.42L189.80 159.36L190.05 158.81L190.30 158.81L190.55 159.35L190.80 160.40L191.05 161.90L191.30 163.77L191.55 165.90L191.80 168.17L192.05 170.49L192.30 172.75L192.55 174.88L192.80 176.82L193.05 178.53L193.30 180.00L193.55 181.22L193.80 182.22L194.05 183.02L194.30 183.63L194.55 184.11L194.80 184.46L195.05 184.73" stroke="#f7a24a" stroke-width="1.0" fill="none" clip-path="url(#cu)" stroke-linejoin="round"/>
<path d="M205.30 186.49L205.55 186.23L205.80 185.85L206.05 185.30L206.30 184.55L206.55 183.53L206.80 182.20L207.05 180.50L207.30 178.38L207.55 175.82L207.80 172.80L208.05 169.32L208.30 165.44L208.55 161.22L208.80 156.80L209.05 152.30L209.30 147.92L209.55 143.84L209.80 140.26L210.05 137.37L210.30 135.32L210.55 134.24L210.80 134.18L211.05 135.15L211.30 137.11L211.55 139.93L211.80 143.48L212.05 147.56L212.30 151.99L212.55 156.57L212.80 161.12L213.05 165.48L213.30 169.52L213.55 173.18L213.80 176.39L214.05 179.13L214.30 181.42L214.55 183.29L214.80 184.79L215.05 185.95L215.30 186.85L215.55 187.53L215.80 188.03L216.05 188.40L216.30 188.66" stroke="#f7a24a" stroke-width="1.0" fill="none" clip-path="url(#cu)" stroke-linejoin="round"/>
<path d="M214.55 188.18L214.80 187.91L215.05 187.48L215.30 186.85L215.55 185.95L215.80 184.68L216.05 182.95L216.30 180.63L216.55 177.61L216.80 173.73L217.05 168.88L217.30 162.94L217.55 155.82L217.80 147.48L218.05 137.95L218.30 127.31L218.55 115.73L218.80 103.49L219.05 90.92L219.30 78.45L219.55 66.53L219.80 55.67L220.05 46.36L220.30 39.02L220.55 34.02L220.80 31.62L221.05 31.93L221.30 34.96L221.55 40.54L221.80 48.39L222.05 58.15L222.30 69.34L222.55 81.50L222.80 94.12L223.05 106.74L223.30 118.96L223.55 130.46L223.80 140.98L224.05 150.37L224.30 158.55L224.55 165.52L224.80 171.32L225.05 176.06L225.30 179.84L225.55 182.80L225.80 185.08L226.05 186.80L226.30 188.07L226.55 189.01L226.80 189.68L227.05 190.16L227.30 190.50" stroke="#f7a24a" stroke-width="1.0" fill="none" clip-path="url(#cu)" stroke-linejoin="round"/>
<path d="M44.00 145.25H44.60V145.90H45.20V147.98H45.70V147.02H46.30V149.85H46.90V152.72H47.50V149.74H48.10V153.75H48.40V145.83H49.20V143.50H50.00V146.27H50.40V147.55H51.00V151.10H51.60V155.87H52.40V151.17H53.30V155.36H53.90V150.56H55.00V149.31H56.80V144.00H58.50V143.90H59.10V145.20H59.70V148.15H60.30V151.11H60.90V155.48H61.40V151.00" stroke="#4db34a" stroke-width="0.8" fill="none" clip-path="url(#cu)" stroke-linejoin="round"/>
<path d="M44.00 272.10H44.60V272.10H45.20V275.00H45.70V272.10H46.30V276.70H46.90V281.40H47.50V274.40H48.10V281.40H48.40V265.10H49.20V259.30H50.00V264.00H50.40V266.30H51.00V273.30H51.60V283.10H52.40V274.40H53.30V283.70H53.90V275.00H55.00V275.00H56.80V267.40H58.50V267.40H59.10V269.80H59.70V274.40H60.30V277.90H60.90V284.30H61.40V274.40" stroke="#4db34a" stroke-width="0.8" fill="none" clip-path="url(#cl)" stroke-linejoin="round"/>
<path d="M98.50 159.14H99.10V156.50H100.30V156.60H101.40V161.78H102.60V155.73H104.40V155.21H105.50V158.05H106.70V158.79H107.30V156.65H108.50V158.46H109.60V156.44H110.20V158.02H110.70V154.97H111.90V154.29H112.50V156.01H113.60V154.17H114.20V152.38H115.40V152.47H116.60V155.57H117.70V156.98H118.90V155.98H120.00V155.49H121.20V152.53H122.40V152.14H123.50V154.50H124.00V154.56H124.60V153.21H125.20V150.67H126.30V151.79H126.90V151.01H128.10V153.31H129.20V157.69H129.80V155.01H131.00V155.14H131.60V158.55H132.10V160.57H132.70V157.29H133.90V162.35H135.00V163.32H135.60V159.27H136.20V159.23H136.80V162.31H138.00V160.26H138.50V160.58H139.70V158.49H140.90V159.00H142.00V161.40H142.60V160.17H143.80V161.84H144.90V164.78H145.50V162.17H146.70V163.44H147.80V161.44H148.40V165.03H149.00V161.42H149.60V164.64H150.20V160.01H150.70V157.82H151.90V156.37H152.50V162.42H153.10V160.12H154.20V158.67H154.80V159.83H155.40V163.39H156.00V160.93H156.60V167.59H157.70V164.64H158.30V166.20H158.90V167.53H160.10V167.54H161.20V166.70H162.40V169.81H163.50V171.37H164.00V169.79H165.20V166.89H166.30V168.41H167.50V171.69H168.70V168.82H169.80V165.66H170.40V169.16H171.60V163.51H172.70V159.54H173.30V164.00H174.50V161.70H175.60V161.47H176.80V160.36H177.90V156.15H178.50V152.47H179.70V149.96H180.90V150.48H182.00V145.06H183.20V139.74H184.30V136.12H184.90V135.43H185.50V134.63H186.10V126.08H187.30V105.83H187.80V95.16H189.00V68.78H190.20V51.54H190.70V52.17H191.90V62.00H192.50V72.38H193.70V95.34H194.20V97.26H194.80V101.34H196.00V115.18H196.60V123.46H197.70V129.99H198.90V139.68H200.60V141.83H201.80V147.90H203.10V153.37H204.00V154.50H205.10V153.64H206.10V158.16H207.10V159.40H208.10V146.41H209.20V126.31H210.20V117.17H211.20V125.37H212.20V136.87H213.20V149.54H214.20V169.05H215.30V176.92H216.30V165.95H217.30V142.75H218.30V96.13H219.30V36.83H220.40V24.00H221.40V43.41H222.40V84.20H223.40V127.92H224.40V161.75H225.40V175.46H226.40V176.77H226.60V183.24H227.40V180.98H228.30V178.21H229.00V182.43H229.50V185.27H230.10V181.41H230.70V183.64H231.20V184.65H231.80V187.82H232.40V185.55H233.00V186.81H233.60V188.67H234.10V190.95H234.70V185.72H235.90V187.09H236.50V185.32H237.60V188.87H238.80V184.83H239.40V188.14H240.00V189.99H241.20V190.16H242.30V190.00" stroke="#4db34a" stroke-width="0.8" fill="none" clip-path="url(#cu)" stroke-linejoin="round"/>
<path d="M98.50 274.40H99.10V268.60H100.30V268.00H101.40V278.50H102.60V267.40H104.40V267.40H105.50V273.30H106.70V275.00H107.30V270.90H108.50V275.00H109.60V271.50H110.20V275.00H110.70V269.20H111.90V268.60H112.50V272.60H113.60V270.30H114.20V267.40H115.40V268.00H116.60V273.30H117.70V275.00H118.90V272.10H120.00V270.90H121.20V265.10H122.40V264.50H123.50V269.20H124.00V269.20H124.60V266.30H125.20V261.00H126.30V262.80H126.90V261.00H128.10V265.10H129.20V273.30H129.80V267.40H131.00V266.30H131.60V272.10H132.10V275.00H132.70V266.90H133.90V274.40H135.00V275.60H135.60V267.40H136.20V267.40H136.80V274.40H138.00V273.30H138.50V275.00H139.70V271.50H140.90V272.10H142.00V276.20H142.60V273.30H143.80V275.00H144.90V279.10H145.50V273.30H146.70V275.00H147.80V269.80H148.40V276.20H149.00V268.60H149.60V275.00H150.20V266.30H150.70V262.80H151.90V261.60H152.50V273.30H153.10V267.40H154.20V261.00H154.80V261.60H155.40V267.40H156.00V261.60H156.60V274.40H157.70V268.00H158.30V270.90H158.90V273.30H160.10V272.70H161.20V270.30H162.40V275.60H163.50V277.90H164.00V274.40H165.20V268.00H166.30V270.90H167.50V277.90H168.70V273.30H169.80V268.60H170.40V276.70H171.60V268.00H172.70V262.80H173.30V273.30H174.50V272.10H175.60V275.00H176.80V276.70H177.90V272.10H178.50V266.90H179.70V266.30H180.90V272.10H182.00V266.30H183.20V262.80H184.30V265.10H184.90V270.90H185.50V278.50H186.10V273.30H187.30V267.40H187.80V265.10H189.00V262.80H190.20V263.30H190.70V268.60H191.90V273.30H192.50V278.50H193.70V289.50H194.20V279.10H194.80V270.90H196.00V269.20H196.60V273.30H197.70V268.00H198.90V273.80H200.60V266.90H201.80V273.30H203.10V277.70H204.00V275.00H205.10V267.60H206.10V274.00H207.10V280.80H208.10V271.00H209.20V261.50H210.20V266.00H211.20V278.80H212.20V271.00H213.20V258.40H214.20V270.60H215.30V275.70H216.30V284.90H217.30V303.20H218.30V290.00H219.30V239.10H220.40V249.20H221.40V294.00H222.40V259.40H223.40V246.20H224.40V272.60H225.40V274.70H226.40V269.00H226.60V280.20H227.40V271.00H228.30V262.20H229.00V268.60H229.50V273.00H230.10V264.00H230.70V267.40H231.20V268.60H231.80V274.00H232.40V268.60H233.00V270.30H233.60V273.30H234.10V277.30H234.70V266.30H235.90V268.00H236.50V264.00H237.60V270.30H238.80V261.60H239.40V268.00H240.00V271.50H241.20V271.50H242.30V270.90" stroke="#4db34a" stroke-width="0.8" fill="none" clip-path="url(#cl)" stroke-linejoin="round"/>
<path d="M267.50 191.92H268.70V187.98H269.80V191.50H271.00V189.10H272.10V189.87H273.30V188.82H274.50V190.69H275.60V188.11H276.80V189.06H278.00V189.69H279.10V189.23H280.30V188.15H281.40V187.13H282.60V186.45H283.70V187.22H284.90V186.43H286.10V186.33H286.70V188.87H287.30V191.20H287.80V188.35H288.40V192.39H289.60V195.33H290.70V192.61H291.30V194.75H291.90V192.68H293.10V195.81H294.20V198.18H294.80V194.62H296.00V194.12H297.10V197.21H297.70V195.44H298.90V196.44H300.00V198.27H301.20V197.47H302.40V200.58H303.20V198.85H303.80V200.81H304.90V202.29H306.10V202.39H307.20V200.98H308.40V199.52H309.60V200.22H310.70V201.40H311.90V200.88H313.00V201.00H314.20V202.56H314.80V202.64H315.40V204.52H316.00V203.82H316.50V203.59H317.10V203.44H317.70V205.22H318.30V205.14H318.90V206.99H319.50V206.14H320.00V207.92" stroke="#4db34a" stroke-width="0.8" fill="none" clip-path="url(#cu)" stroke-linejoin="round"/>
<path d="M267.50 274.40H268.70V266.30H269.80V273.30H271.00V268.60H272.10V270.30H273.30V268.60H274.50V273.30H275.60V269.20H276.80V272.10H278.00V273.80H279.10V272.70H280.30V270.30H281.40V268.00H282.60V266.30H283.70V267.40H284.90V265.10H286.10V264.00H286.70V268.60H287.30V272.70H287.80V266.30H288.40V273.30H289.60V276.70H290.70V269.20H291.30V272.70H291.90V268.00H293.10V273.30H294.20V277.30H294.80V269.80H296.00V268.00H297.10V273.30H297.70V269.20H298.90V269.80H300.00V272.10H301.20V269.20H302.40V274.40H303.20V270.30H303.80V273.80H304.90V276.20H306.10V276.70H307.20V275.00H308.40V273.30H309.60V275.00H310.70V276.70H311.90V274.40H313.00V273.30H314.20V275.00H314.80V274.40H315.40V277.30H316.00V275.00H316.50V273.80H317.10V272.70H317.70V275.60H318.30V275.00H318.90V278.50H319.50V276.70H320.00V280.20" stroke="#4db34a" stroke-width="0.8" fill="none" clip-path="url(#cl)" stroke-linejoin="round"/>
<path d="M335.10 203.72H335.70V204.57H336.30V203.52H336.90V204.88H337.40V204.48H338.00V207.89H338.60V206.56H339.20V207.73H339.80V207.95H340.30V209.28H340.90V207.43H341.50V206.47H342.10V207.49H342.70V203.29H343.20V204.31H343.80V206.12H344.40V208.25H345.60V207.80H346.70V208.23H347.30V209.50H347.90V210.13H348.50V207.00H349.10V206.22H349.60V207.73H350.20V204.60H350.80V206.72H351.40V209.09H352.00V209.76H352.50V208.07H353.10V207.24H353.70V208.21H354.30V209.43H355.50V210.73H356.00V209.03" stroke="#4db34a" stroke-width="0.8" fill="none" clip-path="url(#cu)" stroke-linejoin="round"/>
<path d="M335.10 270.90H335.70V272.10H336.30V269.20H336.90V270.90H337.40V269.20H338.00V275.00H338.60V271.50H339.20V273.30H339.80V273.30H340.30V275.60H340.90V271.50H341.50V269.20H342.10V270.90H342.70V262.20H343.20V264.00H343.80V267.40H344.40V271.50H345.60V270.30H346.70V270.90H347.30V273.30H347.90V274.40H348.50V268.00H349.10V266.30H349.60V269.20H350.20V262.80H350.80V266.90H351.40V271.50H352.00V272.70H352.50V269.20H353.10V267.40H353.70V269.20H354.30V271.50H355.50V273.80H356.00V270.30" stroke="#4db34a" stroke-width="0.8" fill="none" clip-path="url(#cl)" stroke-linejoin="round"/>
<path d="M61.40 150.10H62.60V147.80H63.80V146.60H64.90V146.60H65.50V143.10H66.10V141.40H67.30V139.40H69.00V137.30H70.20V136.00H70.70V129.90H71.60V129.70H72.20V131.00H72.80V134.00H74.00V129.90H75.10V126.40H75.30V122.90H75.70V115.90H76.90V113.60H77.20V110.10H77.40V106.60H78.60V104.90H79.20V104.10H80.00V103.70H80.30V98.50H80.70V97.30H81.50V99.10H82.30V99.70H82.70V109.00H83.30V109.50H84.20V112.40H84.40V120.60H85.00V122.90H85.60V129.90H86.30V135.00H86.60V138.50H86.90V140.80H87.50V143.10H88.70V146.00H90.40V145.50H91.60V147.20H92.10V150.10H92.50V147.80H93.30V147.80H95.00V149.00H95.60V151.30H96.80V154.20H97.40V155.90H98.00V157.10H98.50V157.40" stroke="#1a1a1a" stroke-width="0.9" fill="none" clip-path="url(#cu)" stroke-linejoin="round"/>
<path d="M241.90 189.60H243.30V191.00H244.70V190.30H246.10V192.40H247.50V191.00H248.90V195.20H250.30V194.50H251.00V191.00H252.40V188.20H253.10V184.00H254.50V182.60H255.50V179.10H256.60V180.50H257.30V185.40H258.70V186.80H260.10V186.10H261.50V187.50H262.90V188.90H264.30V190.30H265.70V191.70H267.10V191.00H267.50V190.80" stroke="#1a1a1a" stroke-width="0.9" fill="none" clip-path="url(#cu)" stroke-linejoin="round"/>
<path d="M319.10 205.90H320.00V208.40H320.40V210.50H321.20V211.80H321.70V212.60H322.50V212.20H322.90V211.40H323.80V211.00H324.60V209.70H325.40V208.00H326.30V207.60H327.10V207.20H328.00V208.40H328.80V209.70H329.20V210.50H329.60V209.50H330.10V205.90H330.90V204.20H332.20V203.80H333.40V203.40H334.30V204.20H335.10V203.80" stroke="#1a1a1a" stroke-width="0.9" fill="none" clip-path="url(#cu)" stroke-linejoin="round"/>
<path d="M61.10 274.20H62.20V272.90H63.00V266.50H64.30V265.90H65.00V270.40H65.20V262.70H65.60V258.90H66.20V256.30H66.90V255.00H68.10V254.40H68.80V252.50H69.50V253.00H70.10V251.20H70.70V246.10H71.10V242.20H71.30V238.40H72.00V236.50H72.60V235.80H72.90V240.90H73.30V245.40H73.60V241.00H73.90V237.10H74.50V233.30H75.00V225.00H80.00V150.00H86.00V200.00H86.40V232.00H86.70V239.70H86.90V248.00H88.00V256.30H89.20V258.20H90.30V253.10H90.80V257.60H91.80V259.50H92.40V266.50H93.10V258.90H94.40V259.50H95.60V262.70H96.70V267.80H97.60V270.40H98.20V272.90H98.50V274.40" stroke="#1a1a1a" stroke-width="0.9" fill="none" clip-path="url(#cl)" stroke-linejoin="round"/>
<path d="M242.30 270.90H242.90V272.70H243.50V271.50H244.00V275.00H244.60V276.20H245.20V277.90H245.80V276.70H246.30V272.10H247.50V275.00H248.10V275.00H248.70V281.40H249.30V287.20H249.80V283.70H250.40V280.20H251.00V277.90H251.60V276.70H252.70V277.30H253.30V273.30H253.90V265.10H254.50V264.50H255.10V261.60H255.70V257.60H256.20V258.10H256.80V260.50H257.40V269.80H258.00V270.90H258.60V271.50H259.10V272.70H259.70V270.30H260.90V270.90H261.50V268.60H262.00V270.30H262.60V272.70H263.20V271.50H264.40V273.30H265.00V270.90H265.20V271.50H266.30V273.30H266.60V279.10H267.50V274.40" stroke="#1a1a1a" stroke-width="0.9" fill="none" clip-path="url(#cl)" stroke-linejoin="round"/>
<path d="M320.00 280.20H320.60V282.60H321.20V284.90H321.80V287.20H322.30V289.50H322.90V286.00H323.50V287.20H324.10V283.70H324.70V282.00H325.30V279.70H326.40V277.90H327.00V281.40H327.60V283.70H328.20V279.10H328.70V282.60H329.30V287.20H329.90V281.40H330.50V276.70H331.10V274.40H332.20V275.00H332.80V273.30H334.00V272.70H334.60V271.50H335.10V270.90" stroke="#1a1a1a" stroke-width="0.9" fill="none" clip-path="url(#cl)" stroke-linejoin="round"/>
<path d="M44.30 145.23L44.55 145.50L44.80 145.77L45.05 146.03L45.30 146.28L45.55 146.52L45.80 146.76L46.05 146.99L46.30 147.20L46.55 147.41L46.80 147.63L47.05 147.84L47.30 148.06L47.55 148.28L47.80 148.49L48.05 148.70L48.30 148.91L48.55 149.10L48.80 149.28L49.05 149.46L49.30 149.62L49.55 149.76L49.80 149.88L50.05 149.99L50.30 150.07L50.55 150.13L50.80 150.15L51.05 150.14L51.30 150.10L51.55 150.03L51.80 149.94L52.05 149.84L52.30 149.72L52.55 149.59L52.80 149.46L53.05 149.33L53.30 149.20L53.55 149.05L53.80 148.85L54.05 148.61L54.30 148.34L54.55 148.05L54.80 147.75L55.05 147.44L55.30 147.15L55.55 146.86L55.80 146.61L56.05 146.38L56.30 146.20L56.55 146.07L56.80 146.00L57.05 145.97L57.30 145.93L57.55 145.91L57.80 145.89L58.05 145.88L58.30 145.89L58.55 145.91L58.80 145.94L59.05 145.99L59.30 146.11L59.55 146.40L59.80 146.82L60.05 147.32L60.30 147.86L60.55 148.38L60.80 148.86L61.05 149.23L61.30 149.46L61.55 149.53L61.80 149.57L62.05 149.58L62.30 149.58L62.55 149.57L62.80 149.55L63.05 149.52L63.30 149.48L63.55 149.41L63.80 149.31L64.05 149.16L64.30 149.00L64.55 148.81L64.80 148.60L65.05 148.39L65.30 148.18L65.55 147.96L65.80 147.76L66.05 147.57L66.30 147.41L66.55 147.27L66.80 147.16L67.05 147.05L67.30 146.93L67.55 146.82L67.80 146.70L68.05 146.60L68.30 146.51L68.55 146.43L68.80 146.38L69.05 146.35L69.30 146.35L69.55 146.39L69.80 146.45L70.05 146.52L70.30 146.59L70.55 146.66L70.80 146.74L71.05 146.82L71.30 146.91L71.55 147.00L71.80 147.09L72.05 147.18L72.30 147.28L72.55 147.38L72.80 147.48L73.05 147.58L73.30 147.69L73.55 147.83L73.80 148.00L74.05 148.19L74.30 148.40L74.55 148.63L74.80 148.87L75.05 149.12L75.30 149.37L75.55 149.63L75.80 149.89L76.05 150.15L76.30 150.41L76.55 150.65L76.80 150.90L77.05 151.18L77.30 151.48L77.55 151.79L77.80 152.11L78.05 152.43L78.30 152.75L78.55 153.06L78.80 153.34L79.05 153.60L79.30 153.82L79.55 154.00L79.80 154.13L80.05 154.21L80.30 154.27L80.55 154.32L80.80 154.38L81.05 154.42L81.30 154.47L81.55 154.51L81.80 154.55L82.05 154.59L82.30 154.62L82.55 154.66L82.80 154.69L83.05 154.71L83.30 154.74L83.55 154.76L83.80 154.78L84.05 154.80L84.30 154.79L84.55 154.74L84.80 154.66L85.05 154.55L85.30 154.42L85.55 154.27L85.80 154.12L86.05 153.97L86.30 153.82L86.55 153.69L86.80 153.57L87.05 153.48L87.30 153.42L87.55 153.40L87.80 153.39L88.05 153.38L88.30 153.37L88.55 153.37L88.80 153.37L89.05 153.37L89.30 153.38L89.55 153.39L89.80 153.41L90.05 153.44L90.30 153.47L90.55 153.51L90.80 153.56L91.05 153.61L91.30 153.67L91.55 153.74L91.80 153.81L92.05 153.89L92.30 153.97L92.55 154.05L92.80 154.14L93.05 154.23L93.30 154.32L93.55 154.42L93.80 154.51L94.05 154.61L94.30 154.72L94.55 154.82L94.80 154.96L95.05 155.13L95.30 155.32L95.55 155.54L95.80 155.77L96.05 156.01L96.30 156.25L96.55 156.48L96.80 156.70L97.05 156.89L97.30 157.05L97.55 157.18L97.80 157.30L98.05 157.43L98.30 157.55L98.55 157.66L98.80 157.78L99.05 157.88L99.30 157.98L99.55 158.08L99.80 158.16L100.05 158.24L100.30 158.30L100.55 158.34L100.80 158.34L101.05 158.31L101.30 158.26L101.55 158.18L101.80 158.09L102.05 157.98L102.30 157.87L102.55 157.75L102.80 157.64L103.05 157.53L103.30 157.44L103.55 157.36L103.80 157.30L104.05 157.26L104.30 157.22L104.55 157.19L104.80 157.16L105.05 157.14L105.30 157.11L105.55 157.09L105.80 157.07L106.05 157.05L106.30 157.03L106.55 157.00L106.80 156.97L107.05 156.94L107.30 156.90L107.55 156.85L107.80 156.81L108.05 156.76L108.30 156.70L108.55 156.65L108.80 156.59L109.05 156.53L109.30 156.47L109.55 156.40L109.80 156.33L110.05 156.27L110.30 156.19L110.55 156.12L110.80 156.04L111.05 155.97L111.30 155.89L111.55 155.81L111.80 155.72L112.05 155.63L112.30 155.52L112.55 155.38L112.80 155.23L113.05 155.07L113.30 154.91L113.55 154.75L113.80 154.59L114.05 154.45L114.30 154.33L114.55 154.24L114.80 154.17L115.05 154.14L115.30 154.15L115.55 154.21L115.80 154.28L116.05 154.37L116.30 154.48L116.55 154.60L116.80 154.72L117.05 154.85L117.30 154.98L117.55 155.11L117.80 155.23L118.05 155.34L118.30 155.45L118.55 155.53L118.80 155.60L119.05 155.65L119.30 155.69L119.55 155.72L119.80 155.73L120.05 155.74L120.30 155.74L120.55 155.73L120.80 155.71L121.05 155.70L121.30 155.68L121.55 155.66L121.80 155.64L122.05 155.62L122.30 155.60L122.55 155.59L122.80 155.58L123.05 155.58L123.30 155.59L123.55 155.60L123.80 155.63L124.05 155.67L124.30 155.71L124.55 155.76L124.80 155.80L125.05 155.85L125.30 155.89L125.55 155.94L125.80 155.99L126.05 156.04L126.30 156.09L126.55 156.14L126.80 156.19L127.05 156.24L127.30 156.30L127.55 156.35L127.80 156.40L128.05 156.45L128.30 156.51L128.55 156.56L128.80 156.62L129.05 156.69L129.30 156.78L129.55 156.89L129.80 157.01L130.05 157.14L130.30 157.28L130.55 157.42L130.80 157.57L131.05 157.73L131.30 157.91L131.55 158.15L131.80 158.42L132.05 158.71L132.30 159.02L132.55 159.35L132.80 159.67L133.05 159.98L133.30 160.27L133.55 160.54L133.80 160.77L134.05 160.95L134.30 161.08L134.55 161.15L134.80 161.19L135.05 161.23L135.30 161.25L135.55 161.27L135.80 161.28L136.05 161.27L136.30 161.19L136.55 161.03L136.80 160.81L137.05 160.53L137.30 160.22L137.55 159.90L137.80 159.57L138.05 159.25L138.30 158.97L138.55 158.73L138.80 158.56L139.05 158.47L139.30 158.45L139.55 158.44L139.80 158.45L140.05 158.47L140.30 158.51L140.55 158.56L140.80 158.62L141.05 158.69L141.30 158.76L141.55 158.84L141.80 158.93L142.05 159.02L142.30 159.11L142.55 159.20L142.80 159.30L143.05 159.45L143.30 159.62L143.55 159.83L143.80 160.04L144.05 160.26L144.30 160.48L144.55 160.68L144.80 160.86L145.05 161.01L145.30 161.13L145.55 161.24L145.80 161.33L146.05 161.42L146.30 161.50L146.55 161.59L146.80 161.68L147.05 161.79L147.30 161.91L147.55 162.06L147.80 162.24L148.05 162.42L148.30 162.58L148.55 162.69L148.80 162.77L149.05 162.83L149.30 162.86L149.55 162.84L149.80 162.78L150.05 162.66L150.30 162.49L150.55 162.28L150.80 162.02L151.05 161.76L151.30 161.54L151.55 161.38L151.80 161.29L152.05 161.28L152.30 161.35L152.55 161.51L152.80 161.74L153.05 162.05L153.30 162.41L153.55 162.81L153.80 163.22L154.05 163.63L154.30 164.03L154.55 164.40L154.80 164.74L155.05 165.04L155.30 165.30L155.55 165.52L155.80 165.71L156.05 165.86L156.30 165.98L156.55 166.07L156.80 166.15L157.05 166.21L157.30 166.27L157.55 166.32L157.80 166.36L158.05 166.40L158.30 166.45L158.55 166.50L158.80 166.55L159.05 166.61L159.30 166.67L159.55 166.74L159.80 166.81L160.05 166.88L160.30 166.95L160.55 167.03L160.80 167.12L161.05 167.20L161.30 167.29L161.55 167.38L161.80 167.48L162.05 167.57L162.30 167.67L162.55 167.76L162.80 167.86L163.05 167.95L163.30 168.05L163.55 168.13L163.80 168.22L164.05 168.30L164.30 168.38L164.55 168.45L164.80 168.51L165.05 168.56L165.30 168.60L165.55 168.64L165.80 168.66L166.05 168.66L166.30 168.66L166.55 168.64L166.80 168.61L167.05 168.56L167.30 168.50L167.55 168.42L167.80 168.33L168.05 168.22L168.30 168.10L168.55 167.96L168.80 167.81L169.05 167.64L169.30 167.46L169.55 167.27L169.80 167.06L170.05 166.84L170.30 166.60L170.55 166.36L170.80 166.10L171.05 165.83L171.30 165.56L171.55 165.27L171.80 164.97L172.05 164.67L172.30 164.36L172.55 164.04L172.80 163.72L173.05 163.39L173.30 163.05L173.55 162.70L173.80 162.36L174.05 162.00L174.30 161.64L174.55 161.27L174.80 160.90L175.05 160.52L175.30 160.14L175.55 159.74L175.80 159.35L176.05 158.95L176.30 158.54L176.55 158.12L176.80 157.71L177.05 157.28L177.30 156.85L177.55 156.41L177.80 155.97L178.05 155.53L178.30 155.08L178.55 154.63L178.80 154.18L179.05 153.72L179.30 153.26L179.55 152.79L179.80 152.32L180.05 151.84L180.30 151.35L180.55 150.85L180.80 150.34L181.05 149.81L181.30 149.27L181.55 148.70L181.80 148.11L182.05 147.49L182.30 146.83L182.55 146.13L182.80 145.37L183.05 144.56L183.30 143.69L183.55 142.73L183.80 141.69L184.05 140.54L184.30 139.27L184.55 137.88L184.80 136.34L185.05 134.63L185.30 132.74L185.55 130.63L185.80 128.29L186.05 125.68L186.30 122.78L186.55 119.57L186.80 116.01L187.05 112.10L187.30 107.83L187.55 103.23L187.80 98.31L188.05 93.16L188.30 87.84L188.55 82.47L188.80 77.17L189.05 72.10L189.30 67.39L189.55 63.20L189.80 59.66L190.05 56.87L190.30 54.91L190.55 53.81L190.80 53.57L191.05 54.14L191.30 55.46L191.55 57.42L191.80 59.92L192.05 62.85L192.30 66.08L192.55 69.53L192.80 73.12L193.05 76.77L193.30 80.44L193.55 84.10L193.80 87.72L194.05 91.29L194.30 94.80L194.55 98.24L194.80 101.59L195.05 104.86L195.30 108.03L195.55 111.08L195.80 114.02L196.05 116.83L196.30 119.50L196.55 122.02L196.80 124.40L197.05 126.62L197.30 128.69L197.55 130.61L197.80 132.39L198.05 134.02L198.30 135.49L198.55 136.83L198.80 138.03L199.05 139.12L199.30 140.11L199.55 141.01L199.80 141.83L200.05 142.59L200.30 143.29L200.55 143.95L200.80 144.58L201.05 145.19L201.30 145.78L201.55 146.36L201.80 146.95L202.05 147.54L202.30 148.15L202.55 148.77L202.80 149.42L203.05 150.09L203.30 150.76L203.55 151.45L203.80 152.14L204.05 152.83L204.30 153.52L204.55 154.19L204.80 154.83L205.05 155.43L205.30 155.96L205.55 156.40L205.80 156.71L206.05 156.86L206.30 156.79L206.55 156.45L206.80 155.84L207.05 154.92L207.30 153.63L207.55 151.93L207.80 149.78L208.05 147.18L208.30 144.17L208.55 140.81L208.80 137.20L209.05 133.49L209.30 129.82L209.55 126.39L209.80 123.37L210.05 120.95L210.30 119.33L210.55 118.66L210.80 119.01L211.05 120.38L211.30 122.71L211.55 125.91L211.80 129.81L212.05 134.24L212.30 139.01L212.55 143.91L212.80 148.76L213.05 153.40L213.30 157.72L213.55 161.62L213.80 165.04L214.05 167.95L214.30 170.35L214.55 172.23L214.80 173.60L215.05 174.44L215.30 174.77L215.55 174.57L215.80 173.81L216.05 172.41L216.30 170.31L216.55 167.41L216.80 163.59L217.05 158.74L217.30 152.76L217.55 145.59L217.80 137.18L218.05 127.57L218.30 116.84L218.55 105.19L218.80 92.87L219.05 80.21L219.30 67.61L219.55 55.55L219.80 44.52L220.05 35.02L220.30 27.49L220.55 22.30L220.80 19.70L221.05 19.83L221.30 22.68L221.55 28.10L221.80 35.81L222.05 45.44L222.30 56.54L222.55 68.63L222.80 81.22L223.05 93.86L223.30 106.15L223.55 117.74L223.80 128.38L224.05 137.92L224.30 146.28L224.55 153.43L224.80 159.44L225.05 164.39L225.30 168.38L225.55 171.56L225.80 174.05L226.05 175.97L226.30 177.46L226.55 178.64L226.80 179.57L227.05 180.32L227.30 180.95L227.55 181.49L227.80 181.97L228.05 182.41L228.30 182.81L228.55 183.19L228.80 183.55L229.05 183.90L229.30 184.22L229.55 184.53L229.80 184.81L230.05 185.07L230.30 185.30L230.55 185.51L230.80 185.72L231.05 185.93L231.30 186.13L231.55 186.33L231.80 186.52L232.05 186.70L232.30 186.88L232.55 187.06L232.80 187.23L233.05 187.39L233.30 187.55L233.55 187.69L233.80 187.83L234.05 187.97L234.30 188.09L234.55 188.21L234.80 188.32L235.05 188.43L235.30 188.53L235.55 188.64L235.80 188.75L236.05 188.85L236.30 188.95L236.55 189.05L236.80 189.14L237.05 189.23L237.30 189.32L237.55 189.40L237.80 189.48L238.05 189.56L238.30 189.62L238.55 189.68L238.80 189.74L239.05 189.79L239.30 189.83L239.55 189.87L239.80 189.91L240.05 189.95L240.30 189.99L240.55 190.02L240.80 190.06L241.05 190.09L241.30 190.13L241.55 190.16L241.80 190.19L242.05 190.22L242.30 190.25L242.55 190.28L242.80 190.30L243.05 190.33L243.30 190.36L243.55 190.38L243.80 190.40L244.05 190.43L244.30 190.45L244.55 190.47L244.80 190.49L245.05 190.51L245.30 190.51L245.55 190.49L245.80 190.45L246.05 190.40L246.30 190.33L246.55 190.25L246.80 190.16L247.05 190.06L247.30 189.95L247.55 189.83L247.80 189.71L248.05 189.58L248.30 189.45L248.55 189.32L248.80 189.18L249.05 189.05L249.30 188.92L249.55 188.80L249.80 188.67L250.05 188.56L250.30 188.45L250.55 188.35L250.80 188.27L251.05 188.18L251.30 188.08L251.55 187.99L251.80 187.89L252.05 187.79L252.30 187.69L252.55 187.60L252.80 187.50L253.05 187.41L253.30 187.33L253.55 187.24L253.80 187.17L254.05 187.10L254.30 187.04L254.55 186.98L254.80 186.94L255.05 186.91L255.30 186.88L255.55 186.85L255.80 186.83L256.05 186.80L256.30 186.78L256.55 186.76L256.80 186.74L257.05 186.72L257.30 186.71L257.55 186.70L257.80 186.69L258.05 186.69L258.30 186.70L258.55 186.71L258.80 186.73L259.05 186.75L259.30 186.78L259.55 186.83L259.80 186.89L260.05 186.97L260.30 187.08L260.55 187.19L260.80 187.32L261.05 187.46L261.30 187.60L261.55 187.76L261.80 187.91L262.05 188.07L262.30 188.23L262.55 188.38L262.80 188.53L263.05 188.68L263.30 188.81L263.55 188.93L263.80 189.04L264.05 189.15L264.30 189.27L264.55 189.38L264.80 189.49L265.05 189.61L265.30 189.72L265.55 189.83L265.80 189.93L266.05 190.03L266.30 190.12L266.55 190.20L266.80 190.27L267.05 190.33L267.30 190.38L267.55 190.42L267.80 190.46L268.05 190.48L268.30 190.50L268.55 190.52L268.80 190.54L269.05 190.54L269.30 190.55L269.55 190.55L269.80 190.55L270.05 190.54L270.30 190.53L270.55 190.52L270.80 190.51L271.05 190.50L271.30 190.48L271.55 190.46L271.80 190.45L272.05 190.43L272.30 190.41L272.55 190.39L272.80 190.35L273.05 190.29L273.30 190.22L273.55 190.14L273.80 190.04L274.05 189.94L274.30 189.83L274.55 189.72L274.80 189.60L275.05 189.47L275.30 189.35L275.55 189.23L275.80 189.11L276.05 189.00L276.30 188.89L276.55 188.80L276.80 188.71L277.05 188.63L277.30 188.57L277.55 188.53L277.80 188.50L278.05 188.49L278.30 188.50L278.55 188.52L278.80 188.55L279.05 188.57L279.30 188.59L279.55 188.62L279.80 188.65L280.05 188.67L280.30 188.70L280.55 188.73L280.80 188.76L281.05 188.79L281.30 188.82L281.55 188.85L281.80 188.89L282.05 188.92L282.30 188.96L282.55 188.99L282.80 189.03L283.05 189.08L283.30 189.13L283.55 189.19L283.80 189.25L284.05 189.32L284.30 189.39L284.55 189.47L284.80 189.55L285.05 189.64L285.30 189.72L285.55 189.82L285.80 189.91L286.05 190.01L286.30 190.11L286.55 190.21L286.80 190.32L287.05 190.42L287.30 190.55L287.55 190.71L287.80 190.90L288.05 191.11L288.30 191.34L288.55 191.58L288.80 191.84L289.05 192.10L289.30 192.37L289.55 192.63L289.80 192.89L290.05 193.14L290.30 193.37L290.55 193.59L290.80 193.79L291.05 193.96L291.30 194.10L291.55 194.22L291.80 194.34L292.05 194.45L292.30 194.55L292.55 194.65L292.80 194.75L293.05 194.84L293.30 194.93L293.55 195.01L293.80 195.10L294.05 195.18L294.30 195.26L294.55 195.34L294.80 195.42L295.05 195.50L295.30 195.58L295.55 195.67L295.80 195.75L296.05 195.84L296.30 195.93L296.55 196.03L296.80 196.13L297.05 196.23L297.30 196.35L297.55 196.47L297.80 196.59L298.05 196.73L298.30 196.87L298.55 197.02L298.80 197.18L299.05 197.33L299.30 197.49L299.55 197.64L299.80 197.80L300.05 197.95L300.30 198.09L300.55 198.24L300.80 198.37L301.05 198.50L301.30 198.61L301.55 198.72L301.80 198.82L302.05 198.93L302.30 199.04L302.55 199.14L302.80 199.24L303.05 199.34L303.30 199.44L303.55 199.53L303.80 199.61L304.05 199.69L304.30 199.76L304.55 199.82L304.80 199.87L305.05 199.91L305.30 199.91L305.55 199.89L305.80 199.83L306.05 199.75L306.30 199.65L306.55 199.53L306.80 199.40L307.05 199.26L307.30 199.12L307.55 198.98L307.80 198.85L308.05 198.72L308.30 198.61L308.55 198.51L308.80 198.44L309.05 198.40L309.30 198.38L309.55 198.41L309.80 198.45L310.05 198.52L310.30 198.60L310.55 198.69L310.80 198.80L311.05 198.91L311.30 199.04L311.55 199.17L311.80 199.32L312.05 199.46L312.30 199.62L312.55 199.77L312.80 199.93L313.05 200.08L313.30 200.23L313.55 200.39L313.80 200.53L314.05 200.67L314.30 200.81L314.55 200.97L314.80 201.13L315.05 201.31L315.30 201.49L315.55 201.68L315.80 201.87L316.05 202.06L316.30 202.24L316.55 202.43L316.80 202.60L317.05 202.76L317.30 202.91L317.55 203.05L317.80 203.17L318.05 203.26L318.30 203.34L318.55 203.39L318.80 203.43L319.05 203.45L319.30 203.48L319.55 203.49L319.80 203.51L320.05 203.52L320.30 203.53L320.55 203.53L320.80 203.53L321.05 203.53L321.30 203.53L321.55 203.52L321.80 203.52L322.05 203.51L322.30 203.50L322.55 203.49L322.80 203.48L323.05 203.47L323.30 203.46L323.55 203.44L323.80 203.43L324.05 203.42L324.30 203.41L324.55 203.40L324.80 203.40L325.05 203.39L325.30 203.37L325.55 203.35L325.80 203.32L326.05 203.30L326.30 203.27L326.55 203.23L326.80 203.20L327.05 203.17L327.30 203.14L327.55 203.10L327.80 203.07L328.05 203.04L328.30 203.01L328.55 202.99L328.80 202.97L329.05 202.95L329.30 202.94L329.55 202.94L329.80 202.94L330.05 202.95L330.30 202.96L330.55 202.98L330.80 203.01L331.05 203.05L331.30 203.09L331.55 203.13L331.80 203.17L332.05 203.22L332.30 203.27L332.55 203.32L332.80 203.37L333.05 203.43L333.30 203.49L333.55 203.55L333.80 203.61L334.05 203.68L334.30 203.75L334.55 203.81L334.80 203.88L335.05 203.96L335.30 204.03L335.55 204.14L335.80 204.28L336.05 204.44L336.30 204.62L336.55 204.83L336.80 205.04L337.05 205.26L337.30 205.49L337.55 205.71L337.80 205.92L338.05 206.13L338.30 206.31L338.55 206.48L338.80 206.61L339.05 206.72L339.30 206.81L339.55 206.91L339.80 207.00L340.05 207.09L340.30 207.18L340.55 207.26L340.80 207.35L341.05 207.43L341.30 207.51L341.55 207.59L341.80 207.66L342.05 207.73L342.30 207.80L342.55 207.86L342.80 207.92L343.05 207.98L343.30 208.03L343.55 208.08L343.80 208.12L344.05 208.16L344.30 208.19L344.55 208.22L344.80 208.25L345.05 208.28L345.30 208.31L345.55 208.34L345.80 208.37L346.05 208.40L346.30 208.43L346.55 208.46L346.80 208.49L347.05 208.52L347.30 208.55L347.55 208.58L347.80 208.61L348.05 208.64L348.30 208.67L348.55 208.70L348.80 208.73L349.05 208.76L349.30 208.79L349.55 208.82L349.80 208.85L350.05 208.88L350.30 208.91L350.55 208.94L350.80 208.97L351.05 209.00L351.30 209.03L351.55 209.06L351.80 209.09L352.05 209.12L352.30 209.15L352.55 209.18L352.80 209.21L353.05 209.24L353.30 209.27L353.55 209.30L353.80 209.33L354.05 209.35L354.30 209.38L354.55 209.41L354.80 209.44L355.05 209.47L355.30 209.50L355.55 209.53L355.80 209.56" stroke="#e8453c" stroke-width="0.85" fill="none" clip-path="url(#cu)" stroke-linejoin="round"/>
<path d="M48.05 0.60v2.70M48.05 232.50v-2.70M48.05 232.50v2.70M48.05 310.40v-2.70M69.50 0.60v2.70M69.50 232.50v-2.70M69.50 232.50v2.70M69.50 310.40v-2.70M90.95 0.60v2.70M90.95 232.50v-2.70M90.95 232.50v2.70M90.95 310.40v-2.70M112.40 0.60v5.00M112.40 232.50v-5.00M112.40 232.50v5.00M112.40 310.40v-5.00M133.85 0.60v2.70M133.85 232.50v-2.70M133.85 232.50v2.70M133.85 310.40v-2.70M155.30 0.60v2.70M155.30 232.50v-2.70M155.30 232.50v2.70M155.30 310.40v-2.70M176.75 0.60v2.70M176.75 232.50v-2.70M176.75 232.50v2.70M176.75 310.40v-2.70M198.20 0.60v2.70M198.20 232.50v-2.70M198.20 232.50v2.70M198.20 310.40v-2.70M219.65 0.60v5.00M219.65 232.50v-5.00M219.65 232.50v5.00M219.65 310.40v-5.00M241.10 0.60v2.70M241.10 232.50v-2.70M241.10 232.50v2.70M241.10 310.40v-2.70M262.55 0.60v2.70M262.55 232.50v-2.70M262.55 232.50v2.70M262.55 310.40v-2.70M284.00 0.60v2.70M284.00 232.50v-2.70M284.00 232.50v2.70M284.00 310.40v-2.70M305.45 0.60v2.70M305.45 232.50v-2.70M305.45 232.50v2.70M305.45 310.40v-2.70M326.90 0.60v5.00M326.90 232.50v-5.00M326.90 232.50v5.00M326.90 310.40v-5.00M348.35 0.60v2.70M348.35 232.50v-2.70M348.35 232.50v2.70M348.35 310.40v-2.70M44.30 227.30h5.0M356.00 227.30h-5.0M44.30 217.44h2.7M356.00 217.44h-2.7M44.30 207.58h2.7M356.00 207.58h-2.7M44.30 197.72h2.7M356.00 197.72h-2.7M44.30 187.86h2.7M356.00 187.86h-2.7M44.30 178.00h5.0M356.00 178.00h-5.0M44.30 168.14h2.7M356.00 168.14h-2.7M44.30 158.28h2.7M356.00 158.28h-2.7M44.30 148.42h2.7M356.00 148.42h-2.7M44.30 138.56h2.7M356.00 138.56h-2.7M44.30 128.70h5.0M356.00 128.70h-5.0M44.30 118.84h2.7M356.00 118.84h-2.7M44.30 108.98h2.7M356.00 108.98h-2.7M44.30 99.12h2.7M356.00 99.12h-2.7M44.30 89.26h2.7M356.00 89.26h-2.7M44.30 79.40h5.0M356.00 79.40h-5.0M44.30 69.54h2.7M356.00 69.54h-2.7M44.30 59.68h2.7M356.00 59.68h-2.7M44.30 49.82h2.7M356.00 49.82h-2.7M44.30 39.96h2.7M356.00 39.96h-2.7M44.30 30.10h5.0M356.00 30.10h-5.0M44.30 20.24h2.7M356.00 20.24h-2.7M44.30 10.38h2.7M356.00 10.38h-2.7M44.30 300.95h2.7M356.00 300.95h-2.7M44.30 291.10h5.0M356.00 291.10h-5.0M44.30 281.25h2.7M356.00 281.25h-2.7M44.30 271.40h5.0M356.00 271.40h-5.0M44.30 261.55h2.7M356.00 261.55h-2.7M44.30 251.70h5.0M356.00 251.70h-5.0M44.30 241.85h2.7M356.00 241.85h-2.7" stroke="#000" stroke-width="1.1" fill="none"/><path d="M44.3 0.6H356.0V310.4H44.3ZM44.3 232.5H356.0" stroke="#000" stroke-width="1.2" fill="none"/>
<text class="tk" transform="translate(37.30,230.60) scale(1.14,1)" text-anchor="end">2</text><text class="tk" transform="translate(37.30,181.30) scale(1.14,1)" text-anchor="end">3</text><text class="tk" transform="translate(37.30,132.00) scale(1.14,1)" text-anchor="end">4</text><text class="tk" transform="translate(37.30,82.70) scale(1.14,1)" text-anchor="end">5</text><text class="tk" transform="translate(37.30,33.40) scale(1.14,1)" text-anchor="end">6</text><text class="tk" transform="translate(37.30,255.00) scale(1.14,1)" text-anchor="end">0.2</text><text class="tk" transform="translate(37.30,274.70) scale(1.14,1)" text-anchor="end">0</text><text class="tk" transform="translate(37.30,294.40) scale(1.14,1)" text-anchor="end">&#8722;0.2</text><text class="tk" transform="translate(112.80,321.10) scale(1.14,1)" text-anchor="middle">4500</text><text class="tk" transform="translate(220.05,321.10) scale(1.14,1)" text-anchor="middle">5000</text><text class="tk" transform="translate(327.30,321.10) scale(1.14,1)" text-anchor="middle">5500</text><text class="xl" x="134.4" y="341.4" textLength="126.5" lengthAdjust="spacing">Rest Wavelength (&#197;)</text><g transform="rotate(-90)"><text class="ym it" x="-235.20" y="12.80" textLength="8.70" lengthAdjust="spacingAndGlyphs">F</text><text class="ys" x="-226.80" y="17.00" textLength="6.20" lengthAdjust="spacingAndGlyphs">&#955;</text><text class="ym" x="-214.80" y="12.80" textLength="4.80" lengthAdjust="spacingAndGlyphs">(</text><text class="ym" x="-208.60" y="12.80" textLength="13.60" lengthAdjust="spacingAndGlyphs">10</text><text class="yp" x="-194.60" y="5.40" textLength="17.80" lengthAdjust="spacingAndGlyphs">&#8722;15</text><text class="ym" x="-170.40" y="12.80" textLength="20.00" lengthAdjust="spacingAndGlyphs">erg</text><text class="ym" x="-144.80" y="12.80" textLength="7.30" lengthAdjust="spacingAndGlyphs">s</text><text class="yp" x="-136.90" y="5.40" textLength="12.40" lengthAdjust="spacingAndGlyphs">&#8722;1</text><text class="ym" x="-118.20" y="12.80" textLength="19.20" lengthAdjust="spacingAndGlyphs">cm</text><text class="yp" x="-98.50" y="5.40" textLength="13.90" lengthAdjust="spacingAndGlyphs">&#8722;2</text><text class="ym" x="-81.40" y="12.80" textLength="8.00" lengthAdjust="spacingAndGlyphs">&#197;</text><text class="yp" x="-72.90" y="5.40" textLength="11.90" lengthAdjust="spacingAndGlyphs">&#8722;1</text><text class="ym" x="-60.60" y="12.80" textLength="5.00" lengthAdjust="spacingAndGlyphs">)</text></g>
</svg>
</body></html>
